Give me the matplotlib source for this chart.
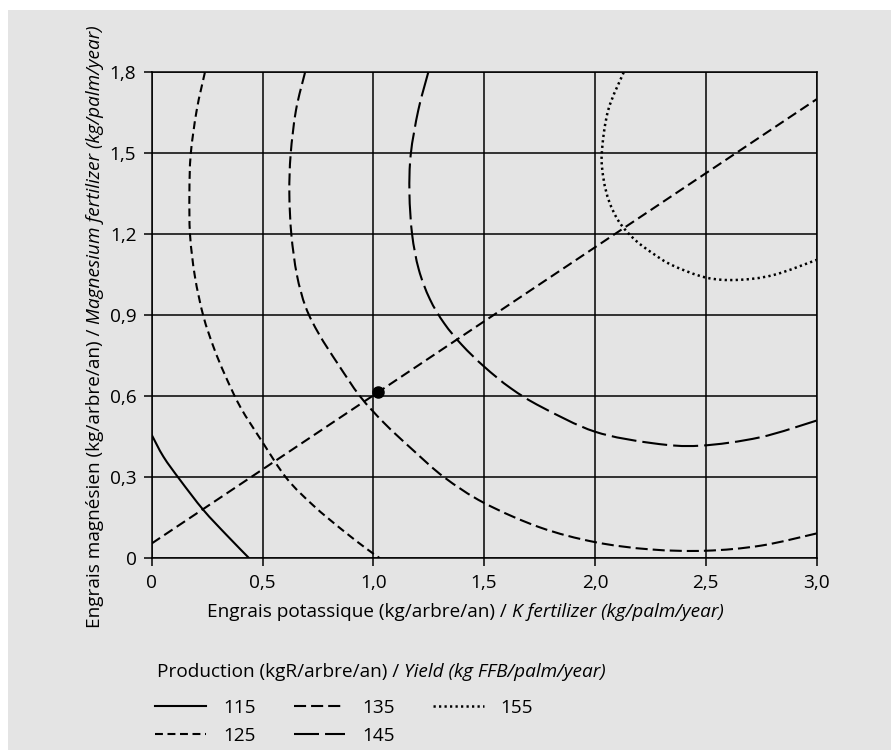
import matplotlib
matplotlib.use("Agg")
import matplotlib.pyplot as plt
from matplotlib.patches import Rectangle, PathPatch
from matplotlib.path import Path
from matplotlib.lines import Line2D

plt.rcParams['font.family'] = ['Open Sans', 'DejaVu Sans']

# Axis ticks
k_ticks = [0, 0.5, 1.0, 1.5, 2.0, 2.5, 3.0]
k_tick_labels = ["0", "0,5", "1,0", "1,5", "2,0", "2,5", "3,0"]
mg_ticks = [0, 0.3, 0.6, 0.9, 1.2, 1.5, 1.8]
mg_tick_labels = ["0", "0,3", "0,6", "0,9", "1,2", "1,5", "1,8"]

# Iso-yield curves: K fertilizer (x) and Mg fertilizer (y), kg/palm/year
k_115 = [0.0, 0.053, 0.128, 0.233, 0.338, 0.44]
mg_115 = [0.457, 0.376, 0.29, 0.179, 0.086, 0.0]

k_125 = [0.24, 0.203, 0.176, 0.17, 0.173, 0.195, 0.233, 0.28, 0.33, 0.40,
         0.50, 0.609, 0.73, 0.86, 0.97, 1.03]
mg_125 = [1.80, 1.66, 1.497, 1.352, 1.197, 1.043, 0.897, 0.78, 0.68, 0.56,
          0.43, 0.296, 0.195, 0.105, 0.035, 0.0]

k_135 = [0.692, 0.651, 0.627, 0.621, 0.630, 0.655, 0.695, 0.755, 0.84, 0.94,
         1.05, 1.18, 1.32, 1.50, 1.75, 2.0, 2.25, 2.5, 2.75, 3.0]
mg_135 = [1.80, 1.66, 1.497, 1.352, 1.20, 1.05, 0.93, 0.83, 0.72, 0.60,
          0.50, 0.40, 0.30, 0.205, 0.115, 0.06, 0.033, 0.028, 0.047, 0.092]

k_145 = [1.248, 1.203, 1.169, 1.163, 1.175, 1.205, 1.255, 1.32, 1.40, 1.50,
         1.62, 1.76, 2.0, 2.263, 2.474, 2.745, 3.0]
mg_145 = [1.80, 1.66, 1.497, 1.352, 1.20, 1.07, 0.96, 0.87, 0.79, 0.71,
          0.63, 0.56, 0.469, 0.426, 0.417, 0.448, 0.51]

k_155 = [2.13, 2.06, 2.031, 2.04, 2.065, 2.11, 2.18, 2.26, 2.35, 2.50,
         2.64, 2.805, 3.0]
mg_155 = [1.80, 1.66, 1.50, 1.40, 1.32, 1.245, 1.18, 1.13, 1.085, 1.04,
          1.031, 1.049, 1.105]

yield_levels = ["115", "125", "135", "145", "155"]

# Optimal K/Mg ratio line and recommended dose
k_ratio = [0.0, 3.0]
mg_ratio = [0.055, 1.70]
k_opt = [1.02]
mg_opt = [0.615]

BG = "#e4e4e4"
FS = 13.7
LW = 1.5


def smooth_path(xs, ys):
    """Smooth path through the given points (Catmull-Rom as cubic Beziers)."""
    pts = list(zip(xs, ys))
    n = len(pts)
    verts = [pts[0]]
    codes = [Path.MOVETO]
    for i in range(n - 1):
        p0 = pts[i - 1] if i > 0 else pts[i]
        p1 = pts[i]
        p2 = pts[i + 1]
        p3 = pts[i + 2] if i + 2 < n else pts[i + 1]
        c1 = (p1[0] + (p2[0] - p0[0]) / 6, p1[1] + (p2[1] - p0[1]) / 6)
        c2 = (p2[0] - (p3[0] - p1[0]) / 6, p2[1] - (p3[1] - p1[1]) / 6)
        verts += [c1, c2, p2]
        codes += [Path.CURVE4] * 3
    return Path(verts, codes)


fig = plt.figure(figsize=(8.91, 7.5), dpi=100)
fig.add_artist(Rectangle((8 / 891, 0), 1, 1 - 10 / 750, transform=fig.transFigure,
                         facecolor=BG, edgecolor="none", zorder=-10))

ax = fig.add_axes([0.1703, 0.2556, 0.7461, 0.648])
ax.set_facecolor("none")
ax.set_xlim(0, 3.0)
ax.set_ylim(0, 1.8)
ax.set_xticks(k_ticks)
ax.set_xticklabels(k_tick_labels)
ax.set_yticks(mg_ticks)
ax.set_yticklabels(mg_tick_labels)
ax.tick_params(direction="out", length=6, width=1.1, pad=5, labelsize=FS,
               colors="black")
ax.grid(True, color="black", linewidth=1.1)
ax.set_axisbelow(True)
for sp in ax.spines.values():
    sp.set_linewidth(1.1)
    sp.set_color("black")

styles = [
    ("-", LW),
    ((0, (3.8, 2.2)), LW),
    ((0, (5.8, 2.4)), LW),
    ((0, (12, 2.9)), LW),
    ((0, (0.9, 1.3)), 1.8),
]
curves = [(k_115, mg_115), (k_125, mg_125), (k_135, mg_135),
          (k_145, mg_145), (k_155, mg_155)]
handles = []
for (kx, my), (ls, lw) in zip(curves, styles):
    ax.add_patch(PathPatch(smooth_path(kx, my), facecolor="none",
                           edgecolor="black", linewidth=lw, linestyle=ls,
                           zorder=3))
    handles.append(Line2D([], [], color="black", linewidth=lw, linestyle=ls))

ax.plot(k_ratio, mg_ratio, color="black", linewidth=LW,
        linestyle=(0, (4.8, 2.4)), zorder=3)
ax.plot(k_opt, mg_opt, marker="o", markersize=8, color="black",
        linestyle="none", zorder=4)

# Axis titles with italic English part
xl1 = fig.text(207 / 891, 1 - 612 / 750, "Engrais potassique (kg/arbre/an) / ",
               fontsize=FS, ha="left", va="center")
ax.annotate("K fertilizer (kg/palm/year)", xy=(1, 0.5), xycoords=xl1,
            fontsize=FS, style="italic", ha="left", va="center",
            annotation_clip=False)

yl1 = fig.text(95 / 891, 1 - 628 / 750, "Engrais magnésien (kg/arbre/an) / ",
               fontsize=FS, rotation=90, ha="center", va="bottom")
ax.annotate("Magnesium fertilizer (kg/palm/year)", xy=(0.5, 1), xycoords=yl1,
            fontsize=FS, style="italic", rotation=90, ha="center", va="bottom",
            annotation_clip=False)

# Legend title
lt1 = fig.text(157 / 891, 1 - 672 / 750, "Production (kgR/arbre/an) / ",
               fontsize=FS, ha="left", va="center")
ax.annotate("Yield (kg FFB/palm/year)", xy=(1, 0.5), xycoords=lt1,
            fontsize=FS, style="italic", ha="left", va="center",
            annotation_clip=False)

ax.legend(handles, yield_levels, ncol=3, loc="upper left",
          bbox_to_anchor=(155 / 891, 1 - 699 / 750),
          bbox_transform=fig.transFigure, frameon=False,
          fontsize=FS, handlelength=2.7, handletextpad=0.88,
          columnspacing=2.0, labelspacing=0.5,
          borderpad=0, borderaxespad=0)

fig.savefig("out.png", dpi=100)
